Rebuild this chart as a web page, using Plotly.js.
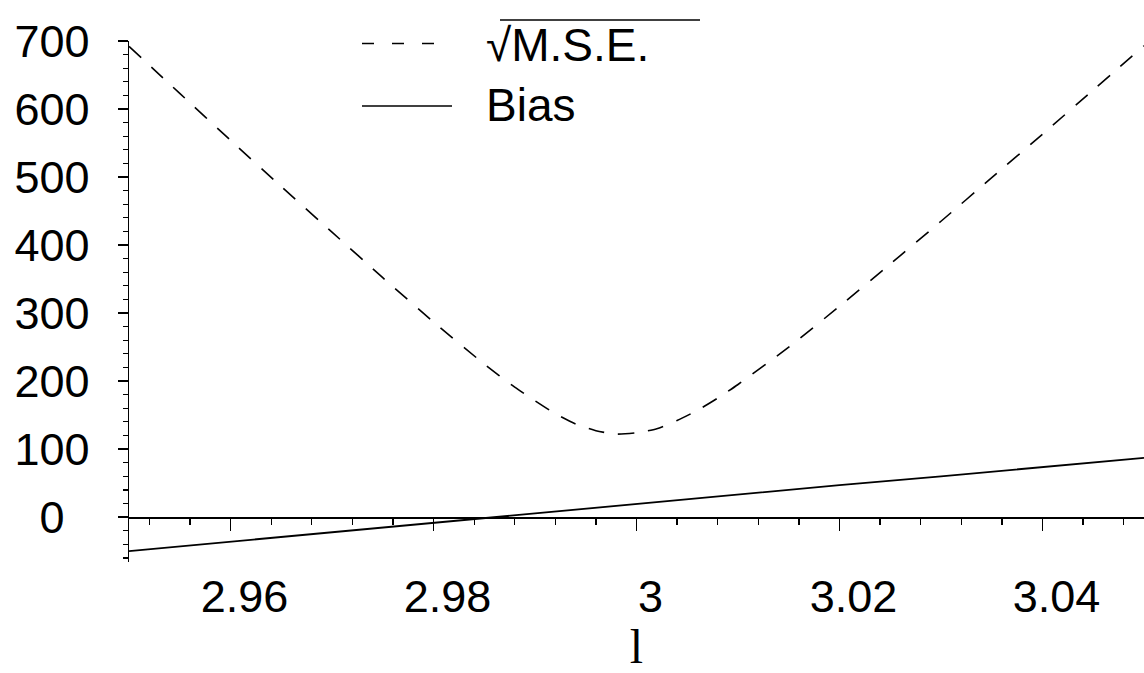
<!DOCTYPE html>
<html>
<head>
<meta charset="utf-8">
<script src="https://cdn.plot.ly/plotly-3.0.1.min.js"></script>
<style>
  html, body { margin: 0; padding: 0; background: #fff; }
  #plot { width: 1144px; height: 673px; }
</style>
</head>
<body>
<div id="plot"></div>
<script>
// Parameter values l
const lValues = [2.95, 2.955, 2.96, 2.965, 2.97, 2.975, 2.98, 2.985, 2.988, 2.99, 2.992, 2.994,
                 2.996, 2.998, 3.0, 3.002, 3.004, 3.006, 3.008, 3.01, 3.015, 3.02, 3.025,
                 3.03, 3.035, 3.04, 3.045, 3.05];
// Square root of the mean squared error at each l
const rootMse = [692, 623, 554, 486, 419, 352, 287, 225, 191, 171, 152, 137,
                 127, 122, 124, 130, 142, 157, 175, 195, 250, 310, 372,
                 435, 499, 563, 628, 693];
// Bias at each l
const biasL = [2.95, 2.96, 2.97, 2.98, 2.99, 3.0, 3.01, 3.02, 3.03, 3.04, 3.05];
const bias = [-50, -36, -23, -9, 5, 19, 33, 47, 60, 74, 87];

// Axis ticks
const xTickVals = [2.96, 2.98, 3.0, 3.02, 3.04];
const xTickText = ['2.96', '2.98', '3', '3.02', '3.04'];
const yTickVals = [0, 100, 200, 300, 400, 500, 600, 700];
const yTickText = ['0\u2007', '100', '200', '300', '400', '500', '600', '700'];

// Legend entries
const legendNames = ['\u221AM.S.E.', 'Bias'];

const xRange = [2.95, 3.05];
const yRange = [-66, 700];

const sansFont = 'Liberation Sans, Arial, Helvetica, sans-serif';
const serifFont = 'Liberation Serif, Times New Roman, serif';

const traces = [
  {
    x: lValues, y: rootMse, type: 'scatter', mode: 'lines',
    xaxis: 'x', yaxis: 'y',
    line: { color: '#000', width: 1.6, dash: '16px,14px', shape: 'spline', smoothing: 0.6 },
    hoverinfo: 'skip', showlegend: false
  },
  {
    x: biasL, y: bias, type: 'scatter', mode: 'lines',
    xaxis: 'x2', yaxis: 'y',
    line: { color: '#000', width: 1.8 },
    hoverinfo: 'skip', showlegend: false
  }
];

// Paper coordinates of the plot area helpers
const px2x = p => (p - 129) / 1015;
const px2y = p => (562 - p) / 521;

const layout = {
  width: 1144, height: 673,
  margin: { l: 129, r: 0, t: 41, b: 111, pad: 0 },
  paper_bgcolor: '#fff', plot_bgcolor: '#fff',
  showlegend: false,
  font: { family: sansFont, color: '#000' },
  xaxis: {
    range: xRange,
    anchor: 'free',
    position: (0 - yRange[0]) / (yRange[1] - yRange[0]),
    showline: true, linecolor: '#000', linewidth: 1.5,
    ticks: 'outside', ticklen: 12, tickwidth: 1.5, tickcolor: '#000',
    tickvals: xTickVals, showticklabels: false,
    minor: { tick0: 2.96, dtick: 0.004, ticks: 'outside', ticklen: 6, tickwidth: 1.2, tickcolor: '#000', showgrid: false },
    showgrid: false, zeroline: false
  },
  xaxis2: {
    overlaying: 'x', matches: 'x', anchor: 'y', side: 'bottom',
    showline: false, ticks: '', showgrid: false, zeroline: false,
    tickvals: xTickVals, ticktext: xTickText,
    tickfont: { family: sansFont, size: 45, color: '#000' },
    ticklabelstandoff: 4, ticklabelshift: 14,
    title: { text: 'l', font: { family: serifFont, size: 48, color: '#000' }, standoff: 10 }
  },
  yaxis: {
    range: yRange,
    anchor: 'x',
    showline: true, linecolor: '#000', linewidth: 1.5,
    ticks: 'outside', ticklen: 10, tickwidth: 1.5, tickcolor: '#000',
    tickvals: yTickVals, ticktext: yTickText,
    tickfont: { family: sansFont, size: 45, color: '#000' },
    ticklabelstandoff: 19,
    minor: { tick0: 0, dtick: 20, ticks: 'outside', ticklen: 5, tickwidth: 1.2, tickcolor: '#000', showgrid: false },
    showgrid: false, zeroline: false
  },
  shapes: [
    // legend samples
    { type: 'line', xref: 'paper', yref: 'paper', x0: px2x(362), x1: px2x(440), y0: px2y(43.5), y1: px2y(43.5),
      line: { color: '#000', width: 1.5, dash: '12px,18px' } },
    { type: 'line', xref: 'paper', yref: 'paper', x0: px2x(362), x1: px2x(452), y0: px2y(106), y1: px2y(106),
      line: { color: '#000', width: 1.5 } },
    // vinculum of the radical
    { type: 'line', xref: 'paper', yref: 'paper', x0: px2x(500), x1: px2x(700), y0: px2y(20), y1: px2y(20),
      line: { color: '#000', width: 1.5 } }
  ],
  annotations: [
    { xref: 'paper', yref: 'paper', x: px2x(484), y: px2y(45), xanchor: 'left', yanchor: 'middle',
      text: legendNames[0], showarrow: false,
      font: { family: sansFont, size: 46, color: '#000' } },
    { xref: 'paper', yref: 'paper', x: px2x(484), y: px2y(105), xanchor: 'left', yanchor: 'middle',
      text: legendNames[1], showarrow: false, font: { family: sansFont, size: 46, color: '#000' } }
  ]
};

Plotly.newPlot('plot', traces, layout, { staticPlot: true, displayModeBar: false });
</script>
</body>
</html>
